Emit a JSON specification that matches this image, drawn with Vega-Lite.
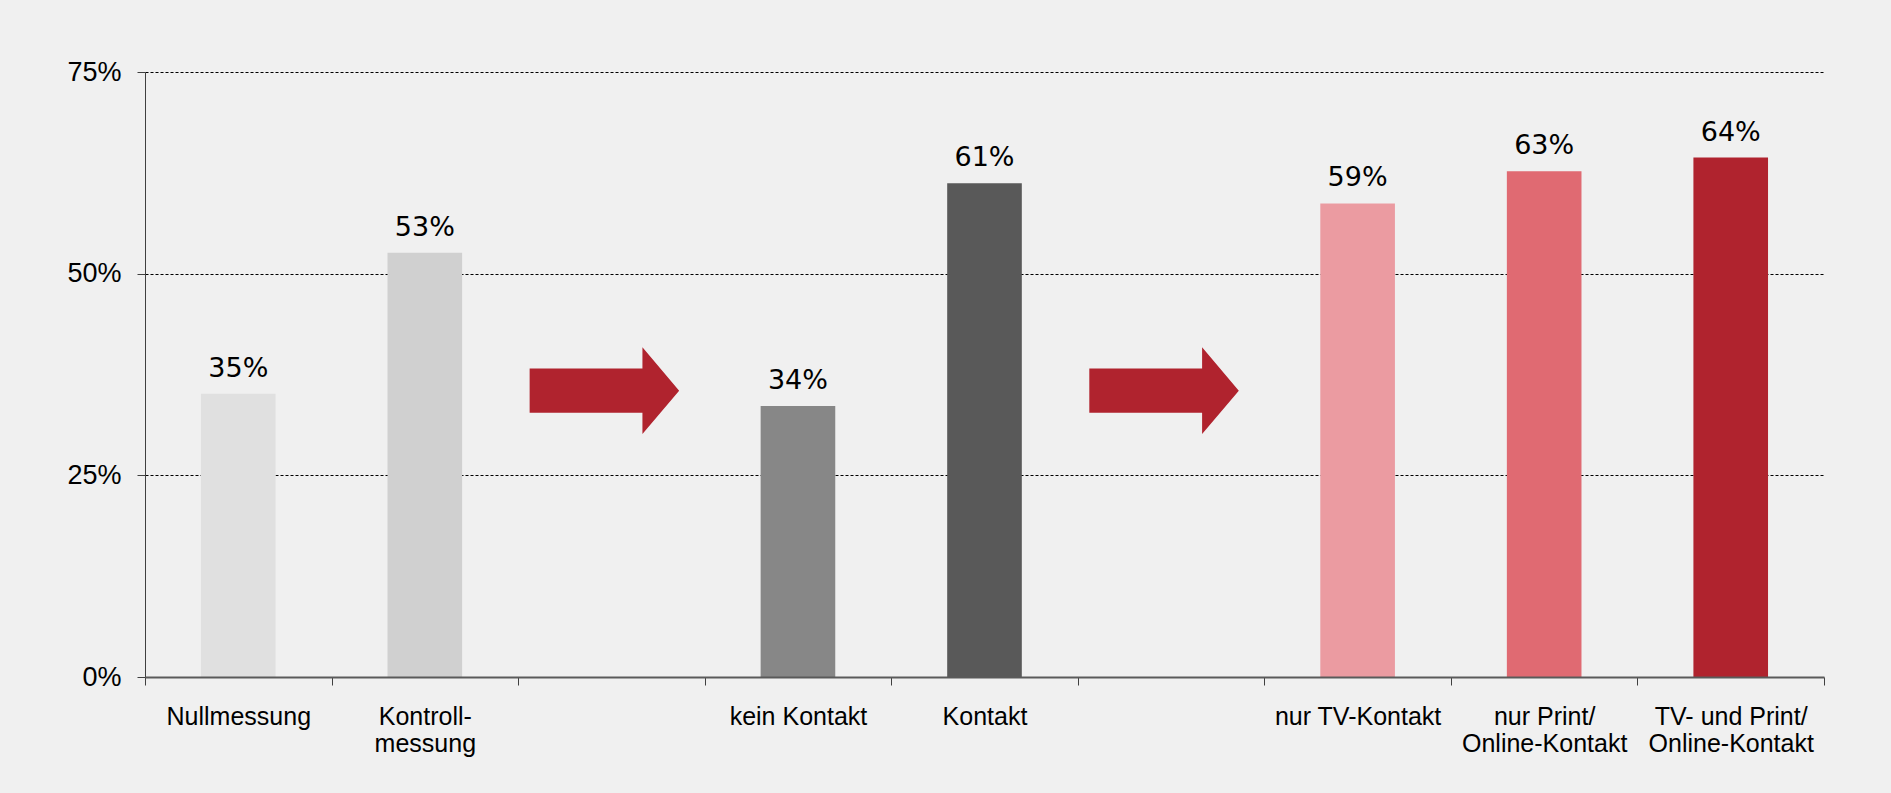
{
  "$schema": "https://vega.github.io/schema/vega-lite/v6.json",
  "width": 1679,
  "height": 605,
  "autosize": "none",
  "padding": {"left": 145, "top": 72, "right": 67, "bottom": 116},
  "background": "#f0f0f0",
  "config": {"view": {"stroke": null}},
  "datasets": {
    "bars": [
      {"cat": "Nullmessung", "value": 0.351},
      {"cat": "Kontroll-|messung", "value": 0.526},
      {"cat": "kein Kontakt", "value": 0.336},
      {"cat": "Kontakt", "value": 0.612},
      {"cat": "nur TV-Kontakt", "value": 0.587},
      {"cat": "nur Print/|Online-Kontakt", "value": 0.627},
      {"cat": "TV- und Print/|Online-Kontakt", "value": 0.644}
    ],
    "arrows": [
      {"cat": "gap1", "value": 0.355},
      {"cat": "gap2", "value": 0.355}
    ]
  },
  "encoding": {
    "x": {
      "field": "cat",
      "type": "nominal",
      "sort": null,
      "scale": {
        "domain": ["Nullmessung", "Kontroll-|messung", "gap1", "kein Kontakt", "Kontakt", "gap2", "nur TV-Kontakt", "nur Print/|Online-Kontakt", "TV- und Print/|Online-Kontakt"],
        "paddingInner": 0,
        "paddingOuter": 0
      },
      "axis": {
        "title": null,
        "tickBand": "extent",
        "tickSize": 8,
        "tickColor": "#404040",
        "tickWidth": 1,
        "domainColor": "#5a5a5a",
        "domainWidth": 2,
        "labelFont": "Liberation Sans",
        "labelFontSize": 25,
        "labelColor": "#000000",
        "labelPadding": 19,
        "labelLineHeight": 27,
        "labelAngle": 0,
        "labelBaseline": "top",
        "labelExpr": "indexof(datum.label, 'gap') == 0 ? '' : split(datum.label, '|')",
        "grid": false,
        "zindex": 1
      }
    },
    "y": {
      "field": "value",
      "type": "quantitative",
      "scale": {"domain": [0, 0.75], "nice": false},
      "axis": {
        "title": null,
        "values": [0, 0.25, 0.5, 0.75],
        "format": ".0%",
        "tickSize": 8,
        "tickColor": "#404040",
        "domainColor": "#404040",
        "domainWidth": 1,
        "labelFont": "Liberation Sans",
        "labelFontSize": 27,
        "labelColor": "#000000",
        "labelPadding": 16,
        "grid": true,
        "gridColor": "#000000",
        "gridDash": [3, 2],
        "gridWidth": 1,
        "zindex": 0
      }
    }
  },
  "layer": [
    {
      "data": {"name": "bars"},
      "mark": {"type": "bar", "width": {"band": 0.4}},
      "encoding": {
        "color": {
          "field": "cat",
          "type": "nominal",
          "legend": null,
          "scale": {
            "domain": ["Nullmessung", "Kontroll-|messung", "kein Kontakt", "Kontakt", "nur TV-Kontakt", "nur Print/|Online-Kontakt", "TV- und Print/|Online-Kontakt"],
            "range": ["#e0e0e0", "#d0d0d0", "#878787", "#595959", "#eb9ba1", "#e06a72", "#b0232e"]
          }
        }
      }
    },
    {
      "data": {"name": "bars"},
      "mark": {"type": "text", "baseline": "alphabetic", "dy": -17, "font": "DejaVu Sans", "fontSize": 27, "color": "#000000"},
      "encoding": {
        "text": {"field": "value", "type": "quantitative", "format": ".0%"}
      }
    },
    {
      "data": {"name": "arrows"},
      "mark": {
        "type": "point",
        "filled": true,
        "opacity": 1,
        "color": "#b0232e",
        "strokeWidth": 0,
        "xOffset": -7,
        "shape": "M-1,-0.295L0.509,-0.295L0.509,-0.58L1,0L0.509,0.58L0.509,0.295L-1,0.295Z"
      },
      "encoding": {
        "size": {"value": 22350}
      }
    }
  ]
}
